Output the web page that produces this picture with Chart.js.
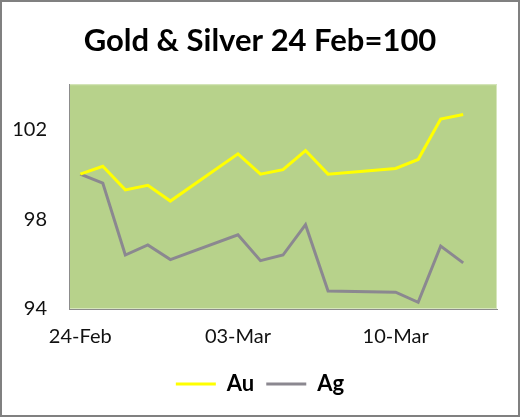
<!DOCTYPE html>
<html>
<head>
<meta charset="utf-8">
<script src="https://cdn.jsdelivr.net/npm/chart.js@4/dist/chart.umd.min.js"></script>
<style>
  html, body { margin: 0; padding: 0; background: #fff; }
  #wrap { width: 520px; height: 417px; position: relative; }
</style>
</head>
<body>
<div id="wrap"><canvas id="c" width="520" height="417"></canvas></div>
<script>
// Day offsets from 24-Feb (trading days)
const days = [0, 1, 2, 3, 4, 7, 8, 9, 10, 11, 14, 15, 16, 17];
const auValues = [100.0, 100.35, 99.3, 99.5, 98.8, 100.9, 100.0, 100.2, 101.05, 100.0, 100.25, 100.65, 102.45, 102.65];
const agValues = [100.0, 99.6, 96.4, 96.85, 96.2, 97.3, 96.15, 96.4, 97.75, 94.8, 94.75, 94.3, 96.8, 96.05];
const xTickDays = [0, 7, 14];
const xTickLabels = ['24-Feb', '03-Mar', '10-Mar'];
const yTicks = [94, 98, 102];
const titleText = 'Gold & Silver 24 Feb=100';
const seriesNames = ['Au', 'Ag'];

const toPoints = vals => vals.map((v, i) => ({ x: days[i], y: v }));

const bgPlugin = {
  id: 'bgPlugin',
  beforeDraw(chart) {
    const { ctx, chartArea: a } = chart;
    ctx.save();
    ctx.fillStyle = '#ffffff';
    ctx.fillRect(0, 0, chart.width, chart.height);
    ctx.fillStyle = '#B7D28B';
    ctx.fillRect(a.left, a.top, a.right - a.left, a.bottom - a.top);
    ctx.strokeStyle = '#D6E6BC';
    ctx.lineWidth = 1;
    ctx.strokeRect(a.left + 0.5, a.top + 0.5, a.right - a.left - 1, a.bottom - a.top - 1);
    ctx.restore();
  },
  afterDraw(chart) {
    const { ctx } = chart;
    ctx.save();
    ctx.strokeStyle = '#808080';
    ctx.lineWidth = 2;
    ctx.strokeRect(1, 1, chart.width - 2, chart.height - 2);
    ctx.restore();
  }
};

new Chart(document.getElementById('c'), {
  type: 'line',
  data: {
    datasets: [
      { label: seriesNames[0], data: toPoints(auValues), borderColor: '#FFFF00', backgroundColor: '#FFFF00', borderWidth: 3, pointRadius: 0, tension: 0 },
      { label: seriesNames[1], data: toPoints(agValues), borderColor: '#8B8890', backgroundColor: '#8B8890', borderWidth: 3, pointRadius: 0, tension: 0 }
    ]
  },
  options: {
    responsive: false,
    animation: false,
    layout: { padding: { left: 0, right: 0, top: 0, bottom: 12 } },
    plugins: {
      title: {
        display: true,
        text: titleText,
        color: '#000',
        font: { family: 'Lato', size: 31, weight: 'bold' },
        padding: { top: 22, bottom: 25 }
      },
      legend: {
        position: 'bottom',
        labels: {
          usePointStyle: true,
          pointStyle: 'line',
          pointStyleWidth: 40,
          boxHeight: 3,
          color: '#000',
          font: { family: 'Lato', size: 22, weight: 'bold' },
          padding: 12
        }
      },
      tooltip: { enabled: false }
    },
    scales: {
      x: {
        type: 'linear',
        min: -0.5,
        max: 18.5,
        grid: { display: false },
        border: { display: true, color: '#8C8C8C', width: 1 },
        afterBuildTicks: s => { s.ticks = xTickDays.map(v => ({ value: v })); },
        afterFit: s => { s.height = 52; },
        ticks: {
          autoSkip: false,
          maxRotation: 0,
          padding: 8,
          color: '#111',
          font: { family: 'Lato', size: 20 },
          callback: (v) => { const i = xTickDays.indexOf(v); return i >= 0 ? xTickLabels[i] : ''; }
        }
      },
      y: {
        min: 94,
        max: 104,
        grid: { display: false },
        border: { display: true, color: '#8C8C8C', width: 1 },
        afterBuildTicks: s => { s.ticks = yTicks.map(v => ({ value: v })); },
        afterFit: s => { s.width = 69; },
        ticks: {
          padding: 14,
          color: '#111',
          font: { family: 'Lato', size: 20 }
        }
      },
      yRight: {
        position: 'right',
        display: true,
        grid: { display: false },
        border: { display: false },
        ticks: { display: false },
        afterFit: s => { s.width = 23; }
      }
    }
  },
  plugins: [bgPlugin]
});
</script>
</body>
</html>
